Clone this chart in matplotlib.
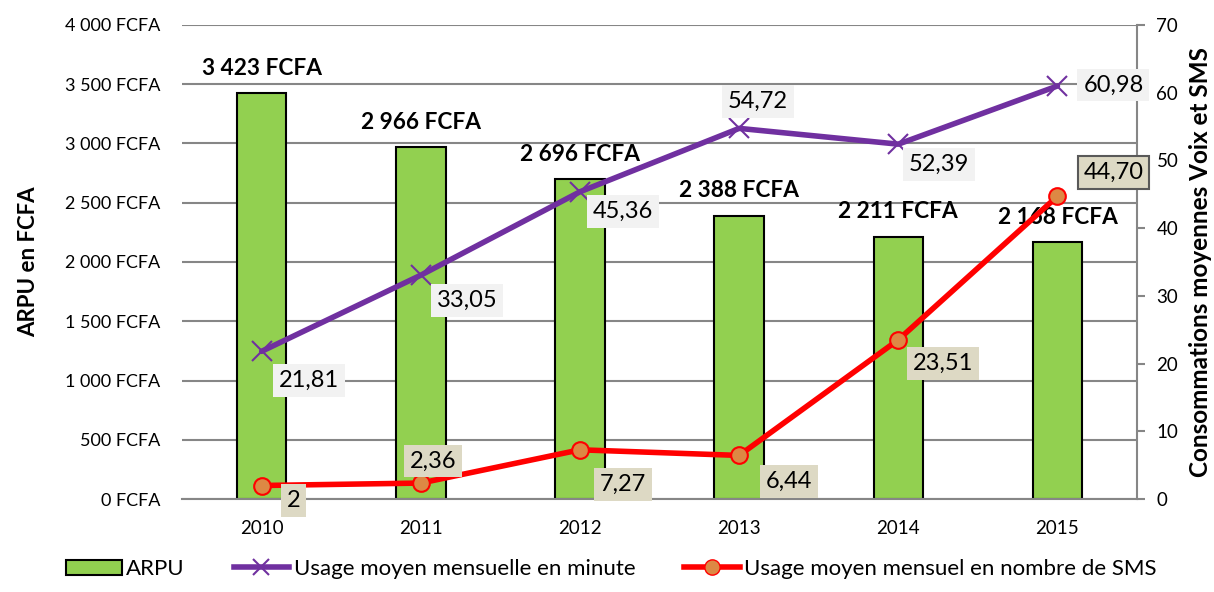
import matplotlib
matplotlib.use("Agg")
import matplotlib.pyplot as plt
from matplotlib.ticker import FuncFormatter, MultipleLocator
from matplotlib.lines import Line2D
from matplotlib.patches import Patch

plt.rcParams['font.family'] = ['Lato', 'DejaVu Sans']

years = ['2010', '2011', '2012', '2013', '2014', '2015']
arpu = [3423, 2966, 2696, 2388, 2211, 2168]
minutes = [21.81, 33.05, 45.36, 54.72, 52.39, 60.98]
sms = [2, 2.36, 7.27, 6.44, 23.51, 44.70]
arpu_labels = ['3 423 FCFA', '2 966 FCFA', '2 696 FCFA', '2 388 FCFA', '2 211 FCFA', '2 168 FCFA']
min_labels = ['21,81', '33,05', '45,36', '54,72', '52,39', '60,98']
sms_labels = ['2', '2,36', '7,27', '6,44', '23,51', '44,70']

# label offsets in pixels (style only)
min_off = [(47, -29), (46, -25), (43, -20), (19, 27), (41, -20), (56, 1)]
sms_off = [(32, -15), (12, 22), (43, -35), (50, -26), (45, -24), (56, 24)]

fig = plt.figure(figsize=(12.14, 5.92), dpi=100)
ax = fig.add_axes([0.150, 0.157, 0.7866, 0.801])
ax2 = ax.twinx()

x = list(range(len(years)))
grid_c = '#868686'

ax.bar(x, arpu, width=0.31, color='#92D050', edgecolor='black', linewidth=1.5, zorder=2)
ax.set_xlim(-0.5, 5.5)
ax.set_ylim(0, 4000)
ax.yaxis.set_major_locator(MultipleLocator(500))
ax.yaxis.set_major_formatter(FuncFormatter(lambda v, p: f"{int(v):,} FCFA".replace(',', ' ')))
ax.grid(axis='y', color=grid_c, linewidth=1.5, zorder=0)
ax.set_axisbelow(True)
for s in ['top', 'left', 'right']:
    ax.spines[s].set_visible(False)
ax.spines['bottom'].set_color(grid_c)
ax.spines['bottom'].set_linewidth(1.5)
ax.set_xticks(x)
ax.set_xticklabels(years)
ax.tick_params(axis='x', length=0, labelsize=13.5, pad=15)
ax.tick_params(axis='y', length=0, labelsize=13, pad=16)
ax.set_ylabel('ARPU en FCFA', fontsize=16, fontweight='bold', labelpad=18)

for xi, v, lab in zip(x, arpu, arpu_labels):
    ax.annotate(lab, (xi, v), xytext=(0, 25), textcoords='offset pixels',
                ha='center', va='center', fontsize=16.3, fontweight='bold', zorder=3)

ax2.set_ylim(0, 70)
ax2.yaxis.set_major_locator(MultipleLocator(10))
for s in ['top', 'left', 'bottom']:
    ax2.spines[s].set_visible(False)
ax2.spines['right'].set_color(grid_c)
ax2.spines['right'].set_linewidth(1.5)
ax2.tick_params(axis='y', direction='out', length=6, width=1.5, color=grid_c, labelsize=13.5, pad=8)
ax2.set_ylabel('Consommations moyennes Voix et SMS', fontsize=17.5, fontweight='bold', labelpad=8)

ax2.plot(x, minutes, color='#7030A0', lw=4, marker='x', markersize=14,
         markeredgewidth=1.5, markeredgecolor='#7030A0', zorder=4, solid_capstyle='round')
ax2.plot(x, sms, color='#FF0000', lw=4, marker='o', markersize=12,
         markerfacecolor='#DD8844', markeredgecolor='#FF0000', markeredgewidth=1.5, zorder=5)

for xi, v, lab, off in zip(x, minutes, min_labels, min_off):
    ax2.annotate(lab, (xi, v), xytext=off, textcoords='offset pixels',
                 ha='center', va='center', fontsize=17, zorder=6,
                 bbox=dict(boxstyle='square,pad=0.25', facecolor='#F2F2F2', edgecolor='none'))
for i, (xi, v, lab, off) in enumerate(zip(x, sms, sms_labels, sms_off)):
    ec = '#595959' if i == 5 else 'none'
    ax2.annotate(lab, (xi, v), xytext=off, textcoords='offset pixels',
                 ha='center', va='center', fontsize=17, zorder=6,
                 bbox=dict(boxstyle='square,pad=0.25', facecolor='#DDD9C4', edgecolor=ec, linewidth=1.5))

handles = [
    Patch(facecolor='#92D050', edgecolor='black', linewidth=1.5, label='ARPU'),
    Line2D([0], [0], color='#7030A0', lw=4, marker='x', markersize=12, markeredgewidth=1.5,
           label='Usage moyen mensuelle en minute'),
    Line2D([0], [0], color='#FF0000', lw=4, marker='o', markersize=11, markerfacecolor='#DD8844',
           markeredgecolor='#FF0000', label='Usage moyen mensuel en nombre de SMS'),
]
fig.legend(handles=handles, loc='lower left', bbox_to_anchor=(0.038, -0.012), ncol=3, frameon=False,
           fontsize=16, handlelength=2.5, handletextpad=0.2, columnspacing=2.2)

fig.savefig('out.png', dpi=100)
